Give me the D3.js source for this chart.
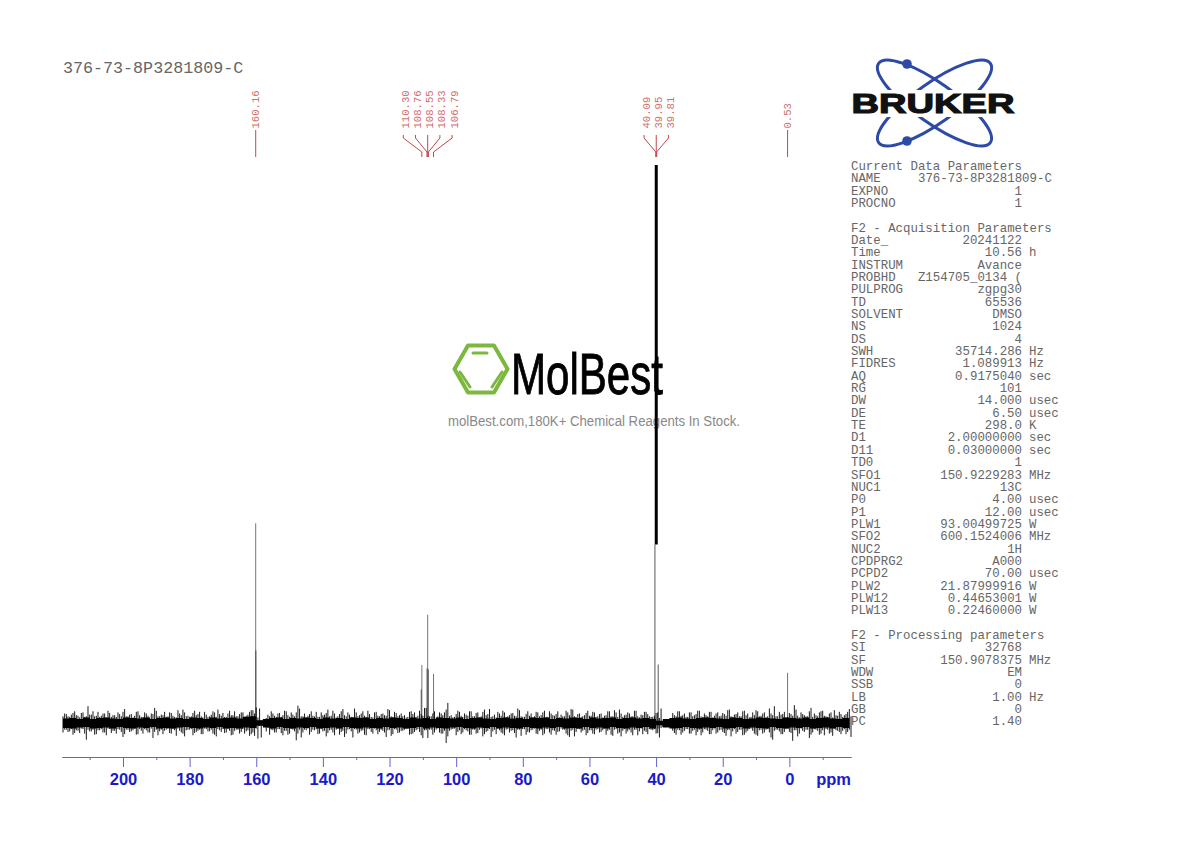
<!DOCTYPE html>
<html>
<head>
<meta charset="utf-8">
<script src="https://cdn.jsdelivr.net/npm/d3@7"></script>
<style>
	html, body { margin: 0; background: #fff; }
	svg { display: block; }
	.mono { font-family: 'Liberation Mono', monospace; }
</style>
</head>
<body>
<svg width="1190" height="842"></svg>
<script>
const title = '376-73-8P3281809-C'

// intensities: 1000 = top of the tallest peak
const peakPpm = [160.16, 160.1, 110.5, 110.30, 108.76, 108.55, 108.33, 106.79, 0.53]
const peakHeight = [358, 130, 60, 104, 98, 194, 96, 88, 90]

const tallPpm = [39.95]
const tallHeight = [1000]
const tallBase = [320]
const flankPpm = [40.35, 39.35]
const flankHeight = [320, 105]

// baseline spikes read per ppm, from 218 ppm down to -18 ppm
const noiseUp = [
	12,16,11,18,14,10,19,12,15,21,13,11,17,10,18,14,11,16,20,12,
	15,10,20,14,11,17,10,16,22,12,14,11,19,13,10,17,24,12,11,18,
	14,20,10,15,12,21,11,16,18,11,22,14,12,16,19,13,20,23,28,26,
	5,9,12,17,11,18,14,21,11,15,19,26,12,10,16,13,20,11,14,18,
	12,22,10,16,25,12,15,11,19,14,21,11,16,10,20,12,17,13,23,11,
	18,14,12,10,20,16,11,22,13,27,12,17,10,19,14,24,12,10,16,20,
	11,15,21,12,18,10,20,14,25,12,10,17,22,11,14,18,12,23,11,16,
	13,10,20,12,19,11,21,14,16,10,12,22,14,24,11,17,12,18,13,20,
	11,16,10,14,21,12,19,24,11,15,17,12,22,10,14,20,12,11,18,9,
	3,2,7,18,12,21,14,11,19,12,16,22,11,14,20,10,17,12,18,13,
	24,11,16,12,21,14,10,19,23,12,17,11,26,14,12,20,16,10,18,13,
	24,10,16,12,21,11,14,19,22,12,17,10,14,20,11,16,25
]
const noiseDown = [
	17,12,15,21,13,18,11,30,15,12,20,13,17,22,11,14,19,12,25,12,
	16,13,21,11,19,13,17,27,12,15,20,12,18,11,23,14,19,13,12,22,
	16,12,20,11,15,19,24,13,11,17,14,21,12,19,11,15,23,17,10,5,
	4,15,21,13,17,11,22,14,19,12,31,12,17,13,21,12,11,19,15,24,
	13,17,12,21,14,19,11,26,12,17,13,22,11,19,13,16,14,25,12,20,
	12,17,14,11,21,19,13,16,27,13,12,21,12,17,19,36,14,11,22,13,
	17,13,21,12,19,12,24,16,11,15,20,13,19,12,17,13,26,12,11,21,
	17,12,19,14,22,11,17,13,21,15,12,19,25,12,16,11,14,22,13,19,
	12,17,13,21,12,23,11,17,14,19,12,22,12,15,20,16,11,13,19,26,
	7,4,6,14,21,13,17,11,19,14,22,12,17,12,20,13,19,13,16,23,
	12,15,19,12,22,17,11,14,21,13,19,12,17,30,12,15,20,11,16,32,
	13,19,14,12,27,17,12,21,13,11,19,23,13,16,14,20,12
]
// solid part of the baseline, read every 2 ppm
const coreUp = [
	8,9,7,10,7,9,10,8,7,10,9,8,10,7,9,10,8,9,7,10,
	9,7,10,8,9,10,8,11,12,5,7,9,10,7,9,8,10,9,7,10,
	8,9,7,10,9,10,7,9,8,10,9,7,10,8,9,7,10,9,8,10,
	7,9,10,8,7,9,10,8,9,7,10,9,10,7,9,8,10,9,7,10,
	8,9,10,7,9,10,8,9,7,4,7,9,10,8,7,9,10,9,8,7,
	10,9,7,8,10,9,8,7,10,9,8,10,7,9,10,8,7,9,8
]
const coreDown = [
	9,10,8,7,10,9,8,10,7,9,10,8,9,7,10,9,10,8,7,9,
	10,8,9,7,10,9,10,8,9,5,8,10,7,9,10,8,9,7,10,9,
	8,10,7,9,10,8,9,10,7,9,8,10,9,7,10,8,9,10,8,7,
	9,10,8,9,7,10,8,9,10,7,9,10,8,9,7,10,9,10,7,9,
	8,10,7,9,10,8,9,7,10,4,8,10,9,7,9,10,8,9,7,10,
	9,7,10,8,9,10,7,9,10,8,9,7,10,9,8,10,7,9,8
]

const labelGroups = [[160.16], [110.30, 108.76, 108.55, 108.33, 106.79], [40.09, 39.95, 39.81], [0.53]]

const majorTicks = [200, 180, 160, 140, 120, 100, 80, 60, 40, 20, 0]
const minorTicks = [210, 190, 170, 150, 130, 110, 90, 70, 50, 30, 10, -10]

const headCurrent = 'Current Data Parameters'
const rowsCurrent = [
	['NAME', '376-73-8P3281809-C', ''], ['EXPNO', '1', ''], ['PROCNO', '1', '']
]
const headAcq = 'F2 - Acquisition Parameters'
const rowsAcq = [
	['Date_', '20241122', ''], ['Time', '10.56', 'h'], ['INSTRUM', 'Avance', ''],
	['PROBHD', 'Z154705_0134 (', ''], ['PULPROG', 'zgpg30', ''], ['TD', '65536', ''],
	['SOLVENT', 'DMSO', ''], ['NS', '1024', ''], ['DS', '4', ''],
	['SWH', '35714.286', 'Hz'], ['FIDRES', '1.089913', 'Hz'], ['AQ', '0.9175040', 'sec'],
	['RG', '101', ''], ['DW', '14.000', 'usec'], ['DE', '6.50', 'usec'],
	['TE', '298.0', 'K'], ['D1', '2.00000000', 'sec'], ['D11', '0.03000000', 'sec'],
	['TD0', '1', ''], ['SFO1', '150.9229283', 'MHz'], ['NUC1', '13C', ''],
	['P0', '4.00', 'usec'], ['P1', '12.00', 'usec'], ['PLW1', '93.00499725', 'W'],
	['SFO2', '600.1524006', 'MHz'], ['NUC2', '1H', ''], ['CPDPRG2', 'A000', ''],
	['PCPD2', '70.00', 'usec'], ['PLW2', '21.87999916', 'W'], ['PLW12', '0.44653001', 'W'],
	['PLW13', '0.22460000', 'W']
]
const headProc = 'F2 - Processing parameters'
const rowsProc = [
	['SI', '32768', ''], ['SF', '150.9078375', 'MHz'], ['WDW', 'EM', ''], ['SSB', '0', ''],
	['LB', '1.00', 'Hz'], ['GB', '0', ''], ['PC', '1.40', '']
]

const svg = d3.select('svg')

const x = d3.scaleLinear().domain([218.3, -18.5]).range([62, 851])
const y = d3.scaleLinear().domain([0, 1000]).range([723, 165])

// watermark sits under the spectrum
const wm = svg.append('g')
wm.append('path')
	.attr('d', 'M454.5 369L468 345.5L494 345.5L507.5 369L494 392.5L468 392.5Z')
	.attr('fill', 'none').attr('stroke', '#7cb83e').attr('stroke-width', 4).attr('stroke-linejoin', 'round')
wm.append('path')
	.attr('d', 'M473 353L487 353M460 372L470 387M502 372L492 387')
	.attr('fill', 'none').attr('stroke', '#7cb83e').attr('stroke-width', 3).attr('stroke-linecap', 'round')
wm.append('text').text('MolBest')
	.attr('x', 511).attr('y', 394)
	.attr('textLength', 152).attr('lengthAdjust', 'spacingAndGlyphs')
	.attr('font-family', 'Liberation Sans').attr('font-size', 58)
	.attr('fill', '#000').attr('stroke', '#000').attr('stroke-width', 0.9)
wm.append('text').text('molBest.com,180K+ Chemical Reagents In Stock.')
	.attr('x', 448).attr('y', 426)
	.attr('textLength', 292).attr('lengthAdjust', 'spacingAndGlyphs')
	.attr('font-family', 'Liberation Sans').attr('font-size', 14).attr('fill', '#888')

// baseline: solid band first, then the spikes on top
const coreArea = d3.area()
	.curve(d3.curveStepAfter)
	.x((d, i) => x(218 - i * 2))
	.y0((d, i) => y(-coreDown[i]))
	.y1(d => y(d))
svg.append('path').datum(coreUp).attr('d', coreArea).attr('fill', '#000')

// whole ppm sticks run up/down as read, half ppm ones use the same readings swapped
const sticks = svg.append('g').attr('stroke', '#000').attr('stroke-width', 0.9)
noiseUp.forEach((v, i) => {
	sticks.append('line')
		.attr('x1', x(218 - i)).attr('x2', x(218 - i))
		.attr('y1', y(-noiseDown[i])).attr('y2', y(v))
	sticks.append('line')
		.attr('x1', x(217.5 - i)).attr('x2', x(217.5 - i))
		.attr('y1', y(-v)).attr('y2', y(noiseDown[i]))
})

peakPpm.forEach((p, i) => {
	svg.append('line')
		.attr('x1', x(p)).attr('x2', x(p)).attr('y1', y(0)).attr('y2', y(peakHeight[i]))
		.attr('stroke', '#000').attr('stroke-opacity', 0.55).attr('stroke-width', 1)
})
flankPpm.forEach((p, i) => {
	svg.append('line')
		.attr('x1', x(p)).attr('x2', x(p)).attr('y1', y(-10)).attr('y2', y(flankHeight[i]))
		.attr('stroke', '#000').attr('stroke-opacity', 0.55).attr('stroke-width', 1.2)
})
tallPpm.forEach((p, i) => {
	svg.append('line')
		.attr('x1', x(p)).attr('x2', x(p)).attr('y1', y(tallBase[i])).attr('y2', y(tallHeight[i]))
		.attr('stroke', '#000').attr('stroke-width', 3)
})

// peak labels and their fan lines
const labelColor = '#cf7070', fanColor = '#c8444a', spacing = 12.2
const fan = d3.line()
labelGroups.forEach(group => {
	const mid = d3.mean(group, d => x(d))
	group.forEach((ppm, i) => {
		const tx = mid + (i - (group.length - 1) / 2) * spacing
		const pts = group.length === 1
			? [[tx, 130], [tx, 157]]
			: [[tx, 135], [tx, 138], [x(ppm), 152], [x(ppm), 157]]
		svg.append('path').attr('d', fan(pts))
			.attr('fill', 'none').attr('stroke', fanColor).attr('stroke-width', 1)
		svg.append('text').text(ppm.toFixed(2))
			.attr('class', 'mono')
			.attr('transform', `translate(${tx + (group.length > 1 ? 5.5 : 3.5)}, 128.5) rotate(-90)`)
			.attr('font-size', 10.6).attr('fill', labelColor)
	})
})

// axis
const blue = '#1a1acc', axisBlue = '#6464cf'
const axisY = 757
const major = svg.append('g').attr('transform', `translate(0, ${axisY})`)
	.call(d3.axisBottom(x).tickValues(majorTicks).tickSize(10).tickPadding(6).tickSizeOuter(0))
major.select('.domain').attr('stroke', axisBlue)
major.selectAll('line').attr('stroke', axisBlue)
major.selectAll('text')
	.attr('fill', blue).attr('font-family', 'Liberation Sans')
	.attr('font-weight', 'bold').attr('font-size', 16.5)
const minor = svg.append('g').attr('transform', `translate(0, ${axisY})`)
	.call(d3.axisBottom(x).tickValues(minorTicks).tickSize(3).tickFormat('').tickSizeOuter(0))
minor.select('.domain').attr('stroke', axisBlue)
minor.selectAll('line').attr('stroke', axisBlue)
svg.append('text').text('ppm')
	.attr('x', 851).attr('y', 785).attr('text-anchor', 'end')
	.attr('fill', blue).attr('font-family', 'Liberation Sans')
	.attr('font-weight', 'bold').attr('font-size', 16.5)

svg.append('text').text(title)
	.attr('class', 'mono').attr('x', 63).attr('y', 73)
	.attr('font-size', 16.7).attr('fill', '#666')

// parameter listing
const pitch = 12.34, listTop = 170
const listColor = '#666'
const rowY = n => listTop + n * pitch
function put( str, px, n, anchor ) {
	svg.append('text').text(str)
		.attr('class', 'mono').attr('x', px).attr('y', rowY(n))
		.attr('text-anchor', anchor).attr('font-size', 12.4).attr('fill', listColor)
}
function block( head, rows, start ) {
	put(head, 851, start, 'start')
	rows.forEach((r, i) => {
		const n = start + 1 + i
		put(r[0], 851, n, 'start')
		if (r[1].length > 14) put(r[1], 918, n, 'start')
		else put(r[1], 1022, n, 'end')
		if (r[2]) put(r[2], 1029, n, 'start')
	})
}
block(headCurrent, rowsCurrent, 0)
block(headAcq, rowsAcq, 5)
block(headProc, rowsProc, 38)

// Bruker logo
const logo = svg.append('g')
const orbitBlue = '#2c4aa6'
;[35.4, -35.4].forEach(a => {
	logo.append('ellipse')
		.attr('cx', 934.5).attr('cy', 103).attr('rx', 68.5).attr('ry', 20)
		.attr('transform', `rotate(${a} 934.5 103)`)
		.attr('fill', 'none').attr('stroke', orbitBlue).attr('stroke-width', 3)
})
logo.append('circle').attr('cx', 907).attr('cy', 64).attr('r', 4.8).attr('fill', orbitBlue)
logo.append('circle').attr('cx', 907).attr('cy', 141).attr('r', 4.8).attr('fill', orbitBlue)
logo.append('rect').attr('x', 851).attr('y', 90).attr('width', 165).attr('height', 27).attr('fill', '#fff')
logo.append('text').text('BRUKER')
	.attr('x', 851.5).attr('y', 113).attr('textLength', 163).attr('lengthAdjust', 'spacingAndGlyphs')
	.attr('font-family', 'Liberation Sans').attr('font-weight', 'bold').attr('font-size', 28.5)
	.attr('fill', '#111').attr('stroke', '#111').attr('stroke-width', 1.2)
</script>
</body>
</html>
